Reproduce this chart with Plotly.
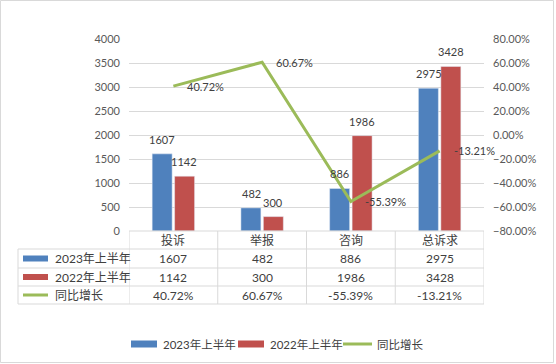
import plotly.graph_objects as go

categories = ["投诉", "举报", "咨询", "总诉求"]
h1_2023 = [1607, 482, 886, 2975]
h1_2022 = [1142, 300, 1986, 3428]
yoy = [0.4072, 0.6067, -0.5539, -0.1321]
series_names = ["2023年上半年", "2022年上半年", "同比增长"]

BLUE = "#4F81BD"
RED = "#C0504D"
GREEN = "#9BBB59"
GRID = "#D9D9D9"
TXT = "#404040"
AX = "#595959"
FONT = "Lato, Noto Sans CJK SC"

W, H = 556, 364
L, R, T, B = 129, 484, 39, 231


def px(x):
    return (x - L) / (R - L)


def py(y):
    return (B - y) / (B - T)


fig = go.Figure()
fig.add_trace(go.Bar(x=categories, y=h1_2023, name=series_names[0], marker_color=BLUE))
fig.add_trace(go.Bar(x=categories, y=h1_2022, name=series_names[1], marker_color=RED))
fig.add_trace(go.Scatter(x=categories, y=yoy, name=series_names[2], yaxis="y2", mode="lines",
                         line=dict(color=GREEN, width=3)))

ann = []
shapes = []
# bar labels
for i, c in enumerate(categories):
    ann.append(dict(x=i - 0.125, y=h1_2023[i], xref="x", yref="y", text=str(h1_2023[i]),
                    showarrow=False, xanchor="center", yanchor="bottom", yshift=6,
                    font=dict(size=11, color=TXT)))
    ann.append(dict(x=i + 0.125, y=h1_2022[i], xref="x", yref="y", text=str(h1_2022[i]),
                    showarrow=False, xanchor="center", yanchor="bottom", yshift=6,
                    font=dict(size=11, color=TXT)))
    ann.append(dict(x=i, y=yoy[i], xref="x", yref="y2", text=f"{yoy[i]*100:.2f}%",
                    showarrow=False, xanchor="left", yanchor="middle", xshift=12,
                    font=dict(size=11, color=TXT)))

# data table
row_edges = [231, 249, 268, 286, 304]
line = dict(color=GRID, width=1)
shapes.append(dict(type="line", xref="x", yref="paper", x0=-0.5, x1=3.5,
                   y0=py(row_edges[0]), y1=py(row_edges[0]), line=line))
for ye in row_edges[1:]:
    shapes.append(dict(type="line", xref="paper", yref="paper", x0=px(18), x1=px(R),
                       y0=py(ye), y1=py(ye), line=line))
for k in range(len(categories) + 1):
    shapes.append(dict(type="line", xref="x", yref="paper", x0=k - 0.5, x1=k - 0.5,
                       y0=py(row_edges[0]), y1=py(row_edges[-1]), line=line))
shapes.append(dict(type="line", xref="paper", yref="paper", x0=px(18), x1=px(18),
                   y0=py(row_edges[1]), y1=py(row_edges[-1]), line=line))

rows = [
    [str(v) for v in h1_2023],
    [str(v) for v in h1_2022],
    [f"{v*100:.2f}%" for v in yoy],
]
for i, c in enumerate(categories):
    ann.append(dict(x=i, y=py((row_edges[0] + row_edges[1]) / 2), xref="x", yref="paper",
                    text=c, showarrow=False, xanchor="center", yanchor="middle",
                    font=dict(size=12, color=TXT)))
    for r in range(3):
        yc = py((row_edges[r + 1] + row_edges[r + 2]) / 2)
        ann.append(dict(x=i, y=yc, xref="x", yref="paper", text=rows[r][i],
                        showarrow=False, xanchor="center", yanchor="middle",
                        font=dict(size=12, color=TXT)))

colors = [BLUE, RED, GREEN]
for r in range(3):
    yc = (row_edges[r + 1] + row_edges[r + 2]) / 2
    if r < 2:
        shapes.append(dict(type="rect", xref="paper", yref="paper", x0=px(23), x1=px(48),
                           y0=py(yc - 3), y1=py(yc + 3), fillcolor=colors[r], line=dict(width=0)))
    else:
        shapes.append(dict(type="line", xref="paper", yref="paper", x0=px(23), x1=px(48),
                           y0=py(yc), y1=py(yc), line=dict(color=GREEN, width=3)))
    ann.append(dict(x=px(53), y=py(yc), xref="paper", yref="paper", text=series_names[r],
                    showarrow=False, xanchor="left", yanchor="middle",
                    font=dict(size=12, color=TXT)))

# bottom legend
leg_y = 344
leg = [(131, 157, 161), (238, 264, 268), (343, 372, 375)]
for r, (a, b, tx) in enumerate(leg):
    if r < 2:
        shapes.append(dict(type="rect", xref="paper", yref="paper", x0=px(a), x1=px(b),
                           y0=py(leg_y - 3.5), y1=py(leg_y + 3.5), fillcolor=colors[r], line=dict(width=0)))
    else:
        shapes.append(dict(type="line", xref="paper", yref="paper", x0=px(a), x1=px(b),
                           y0=py(leg_y), y1=py(leg_y), line=dict(color=GREEN, width=3)))
    ann.append(dict(x=px(tx), y=py(leg_y), xref="paper", yref="paper", text=series_names[r],
                    showarrow=False, xanchor="left", yanchor="middle",
                    font=dict(size=11.5, color=TXT)))

# outer border
shapes.append(dict(type="rect", xref="paper", yref="paper", x0=px(0.5), x1=px(553.5),
                   y0=py(0.5), y1=py(362.5), line=dict(color=GRID, width=1)))

fig.update_layout(
    width=W, height=H,
    margin=dict(l=L, r=W - R, t=T, b=H - B, pad=0),
    paper_bgcolor="white", plot_bgcolor="white",
    font=dict(family=FONT, size=11, color=AX),
    barmode="group", bargap=0.494, bargroupgap=0.11,
    showlegend=False,
    xaxis=dict(type="category", showticklabels=False, showgrid=False, zeroline=False,
               range=[-0.5, 3.5]),
    yaxis=dict(range=[0, 4000], dtick=500, showgrid=True, gridcolor=GRID, gridwidth=1,
               zeroline=False, ticks="", ticklabelstandoff=8, tickfont=dict(size=11, color=AX)),
    yaxis2=dict(range=[-0.8, 0.8], dtick=0.2, tickformat=".2%", overlaying="y", side="right",
                showgrid=False, zeroline=False, ticks="", ticklabelstandoff=8,
                tickfont=dict(size=11, color=AX)),
    annotations=ann, shapes=shapes,
)

fig.write_html("out.html", config={"displayModeBar": False},
               post_script="document.body.style.margin='0';document.body.style.overflow='hidden';")
